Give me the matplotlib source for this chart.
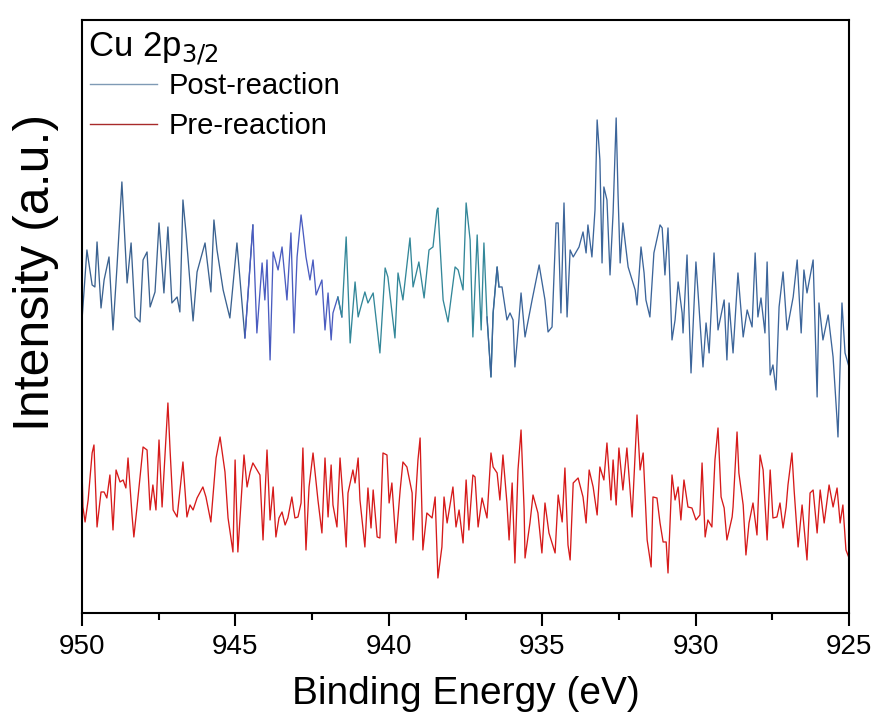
import numpy as np
import matplotlib
matplotlib.use("Agg")
import matplotlib.pyplot as plt
from matplotlib.lines import Line2D

plt.rcParams['font.family'] = ['Liberation Sans', 'DejaVu Sans']

# Post-reaction spectrum (binding energy in eV, intensity in a.u.)
post_energy = [
    950.00, 949.84, 949.67, 949.58, 949.51, 949.38, 949.28, 949.12, 948.99, 948.86,
    948.70, 948.53, 948.40, 948.27, 948.11, 948.01, 947.88, 947.78, 947.62, 947.49,
    947.33, 947.20, 947.07, 946.90, 946.81, 946.71, 946.61, 946.38, 946.25, 945.99,
    945.80, 945.70, 945.60, 945.40, 945.18, 944.95, 944.69, 944.43, 944.30, 944.13,
    944.04, 943.97, 943.87, 943.77, 943.61, 943.48, 943.38, 943.32, 943.19, 943.09,
    942.99, 942.86, 942.80, 942.70, 942.57, 942.47, 942.37, 942.18, 942.08, 941.98,
    941.88, 941.82, 941.66, 941.53, 941.39, 941.26, 941.10, 941.00, 940.78, 940.68,
    940.51, 940.29, 940.12, 940.03, 939.80, 939.70, 939.54, 939.31, 939.21, 939.02,
    938.85, 938.69, 938.56, 938.43, 938.40, 938.23, 938.07, 937.84, 937.74, 937.58,
    937.48, 937.35, 937.26, 937.12, 936.99, 936.90, 936.80, 936.67, 936.60, 936.47,
    936.41, 936.31, 936.15, 936.05, 935.95, 935.89, 935.82, 935.69, 935.56, 935.33,
    935.10, 934.91, 934.81, 934.68, 934.55, 934.48, 934.39, 934.29, 934.19, 934.09,
    933.99, 933.80, 933.67, 933.57, 933.51, 933.38, 933.28, 933.21, 933.12, 933.05,
    932.99, 932.89, 932.79, 932.69, 932.59, 932.53, 932.46, 932.37, 932.20, 932.07,
    931.97, 931.91, 931.78, 931.68, 931.62, 931.49, 931.36, 931.16, 931.09, 931.00,
    930.90, 930.77, 930.67, 930.57, 930.44, 930.41, 930.28, 930.15, 929.99, 929.92,
    929.76, 929.66, 929.56, 929.40, 929.27, 929.07, 928.98, 928.91, 928.78, 928.62,
    928.45, 928.32, 928.16, 928.06, 927.97, 927.87, 927.74, 927.67, 927.57, 927.48,
    927.38, 927.28, 927.15, 927.02, 926.82, 926.69, 926.56, 926.47, 926.37, 926.17,
    926.04, 925.98, 925.85, 925.68, 925.52, 925.39, 925.36, 925.23, 925.13, 925.00,
]
post_intensity = [
    293, 363, 328, 326, 371, 305, 333, 356, 283, 346,
    431, 330, 370, 296, 291, 353, 361, 306, 321, 390,
    320, 386, 310, 316, 301, 413, 380, 292, 341, 370,
    321, 393, 363, 323, 295, 370, 275, 388, 280, 350,
    313, 353, 253, 361, 343, 366, 333, 313, 380, 280,
    356, 398, 383, 356, 333, 353, 318, 333, 283, 320,
    273, 300, 316, 296, 376, 270, 331, 296, 321, 310,
    320, 260, 345, 336, 275, 340, 313, 375, 326, 351,
    315, 363, 366, 403, 405, 313, 291, 346, 343, 323,
    410, 373, 276, 378, 283, 370, 296, 236, 300, 346,
    326, 326, 293, 300, 293, 246, 270, 320, 276, 313,
    348, 313, 281, 286, 390, 390, 300, 410, 296, 363,
    356, 366, 381, 360, 388, 356, 403, 493, 453, 350,
    426, 413, 338, 400, 495, 420, 350, 390, 346, 333,
    323, 308, 366, 340, 313, 296, 360, 388, 385, 338,
    385, 273, 293, 331, 300, 280, 358, 240, 351, 320,
    246, 290, 260, 360, 283, 313, 253, 310, 260, 340,
    276, 303, 286, 360, 296, 315, 280, 351, 238, 248,
    223, 306, 341, 283, 316, 353, 280, 343, 320, 353,
    216, 310, 273, 298, 256, 193, 176, 310, 260, 246,
]

# Pre-reaction spectrum
pre_energy = [
    950.00, 949.97, 949.90, 949.80, 949.67, 949.61, 949.51, 949.38, 949.28, 949.19,
    949.09, 948.99, 948.89, 948.76, 948.66, 948.57, 948.50, 948.37, 948.31, 948.21,
    948.01, 947.88, 947.78, 947.69, 947.59, 947.49, 947.39, 947.20, 947.13, 947.03,
    946.90, 946.71, 946.58, 946.48, 946.38, 946.25, 946.06, 945.96, 945.80, 945.63,
    945.50, 945.34, 945.24, 945.08, 945.01, 944.92, 944.72, 944.62, 944.52, 944.43,
    944.20, 944.10, 943.97, 943.87, 943.77, 943.68, 943.58, 943.48, 943.38, 943.29,
    943.16, 943.06, 942.96, 942.86, 942.80, 942.70, 942.60, 942.47, 942.31, 942.18,
    942.08, 941.98, 941.88, 941.82, 941.69, 941.59, 941.49, 941.39, 941.33, 941.17,
    941.10, 941.00, 940.94, 940.78, 940.68, 940.58, 940.51, 940.38, 940.29, 940.19,
    940.06, 939.99, 939.90, 939.77, 939.63, 939.54, 939.41, 939.24, 939.21, 939.05,
    938.98, 938.89, 938.76, 938.59, 938.49, 938.40, 938.27, 938.20, 938.10, 937.91,
    937.81, 937.71, 937.58, 937.48, 937.39, 937.26, 937.19, 937.09, 936.96, 936.80,
    936.67, 936.60, 936.47, 936.38, 936.28, 936.15, 936.08, 935.98, 935.89, 935.79,
    935.69, 935.59, 935.56, 935.40, 935.30, 935.14, 935.01, 934.91, 934.78, 934.58,
    934.48, 934.35, 934.26, 934.16, 934.09, 933.99, 933.83, 933.67, 933.57, 933.47,
    933.34, 933.21, 933.12, 932.99, 932.89, 932.76, 932.69, 932.59, 932.50, 932.37,
    932.24, 932.07, 931.91, 931.81, 931.71, 931.58, 931.45, 931.39, 931.26, 931.16,
    931.06, 930.96, 930.90, 930.77, 930.67, 930.57, 930.48, 930.38, 930.25, 930.12,
    929.99, 929.86, 929.79, 929.69, 929.60, 929.47, 929.37, 929.27, 929.17, 929.07,
    928.98, 928.81, 928.78, 928.65, 928.59, 928.45, 928.36, 928.26, 928.13, 928.00,
    927.90, 927.80, 927.67, 927.57, 927.48, 927.35, 927.25, 927.15, 927.05, 926.99,
    926.86, 926.79, 926.66, 926.53, 926.37, 926.27, 926.17, 926.04, 925.94, 925.81,
    925.65, 925.52, 925.39, 925.29, 925.20, 925.10, 925.00,
]
pre_intensity = [
    145, 106, 91, 113, 160, 168, 86, 121, 121, 115,
    138, 83, 143, 131, 133, 125, 155, 98, 76, 105,
    166, 163, 103, 128, 103, 173, 106, 210, 163, 103,
    96, 151, 96, 108, 103, 115, 126, 116, 91, 155,
    176, 141, 95, 61, 153, 61, 158, 126, 141, 150,
    138, 73, 163, 93, 126, 76, 95, 101, 88, 95,
    116, 95, 96, 110, 165, 63, 126, 160, 113, 80,
    155, 96, 148, 108, 86, 155, 113, 66, 120, 143,
    130, 155, 113, 66, 125, 85, 123, 76, 75, 160,
    158, 110, 130, 70, 123, 151, 146, 120, 73, 153,
    175, 63, 100, 95, 116, 35, 66, 116, 90, 126,
    86, 103, 70, 133, 83, 138, 136, 86, 115, 95,
    160, 146, 140, 113, 158, 110, 73, 130, 50, 143,
    183, 103, 55, 90, 118, 100, 60, 110, 80, 60,
    118, 91, 145, 68, 53, 130, 135, 116, 90, 143,
    126, 98, 146, 133, 170, 113, 153, 108, 165, 123,
    165, 96, 198, 143, 160, 73, 46, 116, 115, 90,
    71, 71, 40, 138, 113, 126, 93, 133, 106, 105,
    93, 98, 150, 76, 93, 86, 153, 185, 116, 105,
    73, 96, 106, 181, 140, 108, 58, 90, 110, 78,
    158, 143, 73, 143, 95, 96, 110, 85, 106, 128,
    160, 123, 66, 108, 53, 120, 123, 80, 123, 90,
    128, 106, 125, 90, 108, 63, 55,
]

# colour bands of the post-reaction trace (energy ranges)
post_bands = [(950.0, 944.6, '#3b6290'), (944.6, 941.6, '#4a5cc0'),
              (941.6, 936.6, '#338799'), (936.6, 925.0, '#3c659a')]

fig = plt.figure(figsize=(8.78, 7.25), dpi=100)
ax = fig.add_axes([0.0934, 0.1545, 0.8736, 0.818])

pe = np.array(post_energy)
pi = np.array(post_intensity)
for hi, lo, col in post_bands:
    m = (pe <= hi + 0.2) & (pe >= lo - 0.2)
    idx = np.where(m)[0]
    ax.plot(pe[idx], pi[idx], color=col, lw=0.95)

ax.plot(pre_energy, pre_intensity, color='#d61a1a', lw=0.95)

ax.set_xlim(950, 925)
ax.set_ylim(0, 593)
ax.set_xticks([950, 945, 940, 935, 930, 925])
ax.set_xticks([947.5, 942.5, 937.5, 932.5, 927.5], minor=True)
ax.set_yticks([])
ax.tick_params(axis='x', which='major', direction='out', length=9, width=1.5,
               labelsize=20, pad=6, top=False)
ax.tick_params(axis='x', which='minor', direction='out', length=5, width=1.5, top=False)
for s in ax.spines.values():
    s.set_linewidth(1.5)

ax.set_xlabel('Binding Energy (eV)', fontsize=28, labelpad=12)
ax.set_ylabel('Intensity (a.u.)', fontsize=36)
ax.yaxis.set_label_coords(-0.03, 0.575)

ax.text(0.008, 0.982, 'Cu 2p$_{3/2}$', transform=ax.transAxes, fontsize=25,
        va='top', ha='left')
handles = [Line2D([], [], color='#7f9ab5', lw=1.0),
           Line2D([], [], color='#a82a2a', lw=1.0)]
ax.legend(handles, ['Post-reaction', 'Pre-reaction'], loc='upper left',
          bbox_to_anchor=(0.0104, 0.912), frameon=False, fontsize=21,
          handlelength=2.3, handletextpad=0.38, labelspacing=0.42,
          borderaxespad=0, borderpad=0)

fig.savefig('out.png', dpi=100)
